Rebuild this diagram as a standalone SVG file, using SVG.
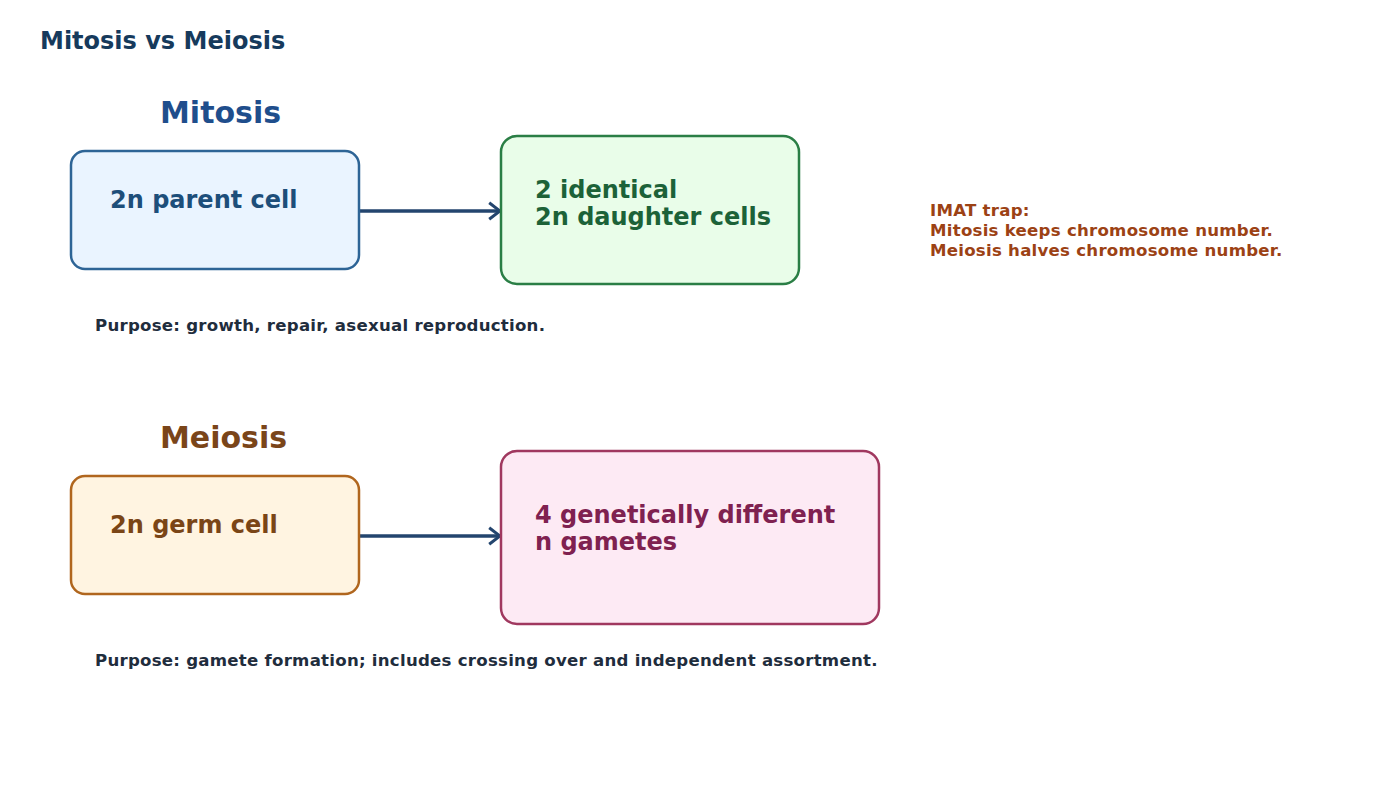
<svg xmlns="http://www.w3.org/2000/svg" width="1400" height="800" viewBox="0 0 1400 800">
<defs>
<style>
text{font-family:"DejaVu Sans","Liberation Sans",sans-serif;font-weight:bold}
.box{stroke-width:2.5}
.conn{stroke:#23456e;stroke-width:3.5;fill:none}
.small{font-size:16.6px;letter-spacing:0.25px}
</style>
<marker id="arr" viewBox="0 0 10 10" refX="9" refY="5" markerWidth="20" markerHeight="20" orient="auto" markerUnits="userSpaceOnUse">
<path d="M3.6,0.9 L9,5 L3.6,9.1" fill="none" stroke="#23456e" stroke-width="1.5"/>
</marker>
</defs>
<rect width="1400" height="800" fill="#ffffff"/>
<text x="40" y="49" font-size="24" fill="#163a5c">Mitosis vs Meiosis</text>
<g id="mitosis-heading"><text x="160" y="123" font-size="30" fill="#1f4e8c">Mitosis</text></g>
<g id="meiosis-heading"><text x="160" y="448" font-size="30" fill="#7a4519">Meiosis</text></g>
<g id="connectors">
<line class="conn" x1="360" y1="211" x2="500" y2="211" marker-end="url(#arr)"/>
<line class="conn" x1="360" y1="536" x2="500" y2="536" marker-end="url(#arr)"/>
</g>
<g id="parent-cell">
<rect class="box" x="71" y="151" width="288" height="118" rx="14" fill="#eaf4ff" stroke="#2d6496"/>
<text x="110" y="208" font-size="24" fill="#1d4e7a">2n parent cell</text>
</g>
<g id="daughter-cells">
<rect class="box" x="501" y="136" width="298" height="148" rx="16" fill="#e9fde9" stroke="#2a7e45"/>
<text x="535" y="198" font-size="24" fill="#1c6238">2 identical</text>
<text x="535" y="225" font-size="24" fill="#1c6238">2n daughter cells</text>
</g>
<g id="germ-cell">
<rect class="box" x="71" y="476" width="288" height="118" rx="14" fill="#fff4e1" stroke="#b0661e"/>
<text x="110" y="533" font-size="24" fill="#7a4516">2n germ cell</text>
</g>
<g id="gametes">
<rect class="box" x="501" y="451" width="378" height="173" rx="16" fill="#fdeaf4" stroke="#a0385f"/>
<text x="535" y="523" font-size="24" fill="#7f2150">4 genetically different</text>
<text x="535" y="550" font-size="24" fill="#7f2150">n gametes</text>
</g>
<g id="imat-trap">
<text class="small" x="930" y="216" fill="#9c4215">IMAT trap:</text>
<text class="small" x="930" y="236" fill="#9c4215">Mitosis keeps chromosome number.</text>
<text class="small" x="930" y="256" fill="#9c4215">Meiosis halves chromosome number.</text>
</g>
<g id="purpose-mitosis"><text class="small" x="95" y="331" fill="#1f2d3d">Purpose: growth, repair, asexual reproduction.</text></g>
<g id="purpose-meiosis"><text class="small" x="95" y="666" fill="#1f2d3d">Purpose: gamete formation; includes crossing over and independent assortment.</text></g>
</svg>
